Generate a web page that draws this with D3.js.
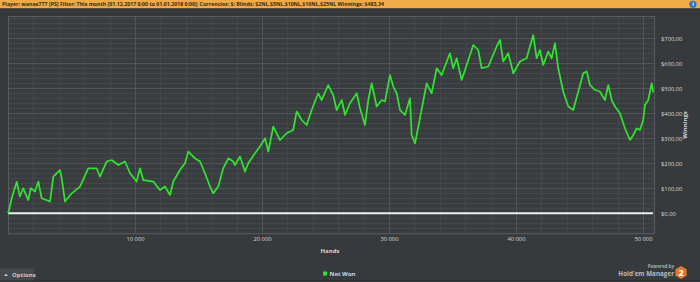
<!DOCTYPE html>
<html>
<head>
<meta charset="utf-8">
<script src="https://cdn.jsdelivr.net/npm/d3@7"></script>
<style>
	html, body { margin: 0; padding: 0; background: #373a3d; }
	svg { display: block; font-family: 'Open Sans', sans-serif; }
</style>
</head>
<body>
<div class="chart"></div>
<script>
// data
const hands = [
	0, 80, 290, 690, 940, 1200, 1600, 1790, 2130, 2390, 2650, 3310, 3570, 4090, 4230, 4490,
	5020, 5670, 6320, 6980, 7240, 7770, 8170, 8690, 9210, 9610, 10130, 10390, 10650, 11440,
	11970, 12360, 12760, 13020, 13540, 13940, 14200, 14720, 15120, 15510, 15910, 16170, 16560,
	16950, 17350, 17740, 17870, 18270, 18660, 18920, 19450, 19840, 20240, 20500, 20890, 21420,
	21940, 22460, 22730, 23130, 23520, 23910, 24430, 24700, 25220, 25610, 25880, 26280, 26540,
	26930, 27460, 27720, 28110, 28370, 28640, 29030, 29430, 29690, 30080, 30340, 30610, 30870,
	31260, 31650, 31790, 32050, 32440, 32970, 33360, 33760, 34150, 34800, 35060, 35330, 35720,
	36120, 36640, 37030, 37300, 37820, 38090, 38480, 38740, 39000, 39390, 39790, 40310, 40840,
	41360, 41630, 41890, 42150, 42540, 42810, 43070, 43330, 43720, 44120, 44510, 44910, 45300,
	45570, 45830, 46220, 46610, 47010, 47270, 47540, 47800, 48190, 48580, 48980, 49240, 49500,
	49760, 50020, 50160, 50420, 50690, 50810
];
const netWon = [
	0, 13, 60, 126, 67, 100, 53, 100, 87, 127, 60, 47, 147, 173, 140, 47,
	80, 107, 180, 180, 147, 207, 213, 193, 207, 160, 127, 180, 133, 127,
	93, 107, 73, 127, 173, 200, 247, 220, 207, 160, 107, 80, 107,
	180, 220, 207, 193, 227, 167, 200, 240, 267, 300, 247, 347, 293,
	320, 333, 407, 373, 353, 413, 480, 453, 513, 473, 413, 453, 393,
	440, 480, 420, 353, 453, 520, 427, 453, 447, 553, 507, 480, 413,
	393, 460, 313, 280, 380, 520, 480, 580, 553, 640, 580, 620, 533,
	593, 673, 653, 580, 587, 620, 667, 693, 607, 640, 560, 607, 620,
	713, 620, 653, 593, 647, 620, 680, 580, 487, 427, 413, 487, 560,
	567, 513, 493, 487, 453, 513, 453, 427, 400, 340, 293, 313, 340,
	333, 373, 433, 453, 520, 483.34
];
const yTicks = [0, 100, 200, 300, 400, 500, 600, 700];
const xTicks = [10000, 20000, 30000, 40000, 50000];
const headerText = 'Player: wanax777 [PS] Filter: This month [01.12.2017 0:00 to 01.01.2018 0:00]; Currencies: $; Blinds: $2NL,$5NL,$10NL,$16NL,$25NL Winnings: $483,34';

const width = 700;
const height = 282;
const plot = { left: 8, right: 654, top: 16, bottom: 233.3 };
const lineGreen = '#2fe62f';
const labelColor = '#d4d6d8';

const svg = d3.select('.chart').append('svg').attr('width', width).attr('height', height);

svg.append('rect').attr('width', width).attr('height', height).attr('fill', '#373a3d');

// header bar
svg.append('rect').attr('width', width).attr('height', 8.5).attr('fill', '#efab47');
svg.append('line').attr('x1', 0).attr('x2', width).attr('y1', 9).attr('y2', 9).attr('stroke', '#2c2e30').attr('stroke-width', 1);
svg.append('text')
	.attr('x', 2)
	.attr('y', 6.3)
	.attr('font-size', 5.6)
	.attr('font-weight', 'bold')
	.attr('fill', '#3a2a10')
	.attr('textLength', 382)
	.attr('lengthAdjust', 'spacingAndGlyphs')
	.text(headerText);
svg.append('circle').attr('cx', 693).attr('cy', 4.3).attr('r', 3.6).attr('fill', '#2f74c8');
svg.append('text').attr('x', 693).attr('y', 6.4).attr('font-size', 5.5).attr('font-weight', 'bold')
	.attr('fill', '#fff').style('text-anchor', 'middle').text('i');

const x = d3.scaleLinear().domain([0, 50870]).range([plot.left, plot.right]);
const y = d3.scaleLinear().domain([-80, 789]).range([plot.bottom, plot.top]);

// plot background
svg.append('rect')
	.attr('x', plot.left).attr('y', plot.top)
	.attr('width', plot.right - plot.left).attr('height', plot.bottom - plot.top)
	.attr('fill', '#3a3d40');

// minor grid
const minorY = d3.range(-80, 789, 20);
const minorX = d3.range(2000, 50870, 2000);
svg.append('g').selectAll('line').data(minorY).enter().append('line')
	.attr('x1', plot.left).attr('x2', plot.right)
	.attr('y1', (d) => Math.round(y(d)) + 0.5).attr('y2', (d) => Math.round(y(d)) + 0.5)
	.attr('stroke', '#43474a');
svg.append('g').selectAll('line').data(minorX).enter().append('line')
	.attr('y1', plot.top).attr('y2', plot.bottom)
	.attr('x1', (d) => Math.round(x(d)) + 0.5).attr('x2', (d) => Math.round(x(d)) + 0.5)
	.attr('stroke', '#43474a');

// major grid
svg.append('g').selectAll('line').data(yTicks).enter().append('line')
	.attr('x1', plot.left).attr('x2', plot.right)
	.attr('y1', (d) => Math.round(y(d)) + 0.5).attr('y2', (d) => Math.round(y(d)) + 0.5)
	.attr('stroke', '#51555a');
svg.append('g').selectAll('line').data(xTicks).enter().append('line')
	.attr('y1', plot.top).attr('y2', plot.bottom)
	.attr('x1', (d) => Math.round(x(d)) + 0.5).attr('x2', (d) => Math.round(x(d)) + 0.5)
	.attr('stroke', '#51555a');

// plot border
svg.append('rect')
	.attr('x', plot.left + 0.5).attr('y', plot.top + 0.5)
	.attr('width', plot.right - plot.left).attr('height', plot.bottom - plot.top)
	.attr('fill', 'none').attr('stroke', '#585c60');

// axes (labels only, the grid is drawn above)
const yAxis = d3.axisRight(y).tickValues(yTicks).tickSize(0)
	.tickFormat((d) => '$' + d3.format('.2f')(d).replace('.', ','));
const gy = svg.append('g').attr('transform', 'translate(' + (plot.right + 4) + ',0)').call(yAxis);
gy.select('.domain').remove();
gy.selectAll('text').attr('fill', labelColor).attr('font-size', 5.8).attr('font-family', 'Open Sans');

const xAxis = d3.axisBottom(x).tickValues(xTicks).tickSize(0)
	.tickFormat((d) => d3.format(',')(d).replace(',', ' '));
const gx = svg.append('g').attr('transform', 'translate(0,' + (plot.bottom + 1) + ')').call(xAxis);
gx.select('.domain').remove();
gx.selectAll('text').attr('fill', labelColor).attr('font-size', 5.8).attr('font-family', 'Open Sans');

// axis titles
svg.append('text').attr('x', 330).attr('y', 253).attr('font-size', 6).attr('font-weight', 'bold')
	.attr('fill', labelColor).style('text-anchor', 'middle').text('Hands');
svg.append('text').attr('transform', 'translate(687,125) rotate(-90)').attr('font-size', 6).attr('font-weight', 'bold')
	.attr('fill', labelColor).style('text-anchor', 'middle').text('Winnings');

// zero line
svg.append('line')
	.attr('x1', plot.left).attr('x2', plot.right - 1)
	.attr('y1', y(0)).attr('y2', y(0))
	.attr('stroke', '#eeeeee').attr('stroke-width', 2);

// net won line
const series = hands.map((h, i) => [h, netWon[i]]);
const valueLine = d3.line().x((d) => x(d[0])).y((d) => y(d[1]));
svg.append('path').datum(series)
	.attr('d', valueLine)
	.attr('fill', 'none')
	.attr('stroke', lineGreen)
	.attr('stroke-width', 1.7)
	.attr('stroke-linejoin', 'round');

// bottom bar: options button, legend, logo
svg.append('line').attr('x1', 0).attr('x2', width).attr('y1', 280.5).attr('y2', 280.5).attr('stroke', '#2c2e30');
svg.append('rect').attr('x', 0).attr('y', 268.5).attr('width', 34).attr('height', 12).attr('fill', '#45484c');
svg.append('path').attr('d', 'M4,276 L6,273.5 L8,276 Z').attr('fill', '#c8cacc');
svg.append('text').attr('x', 12).attr('y', 277).attr('font-size', 6).attr('font-weight', 'bold')
	.attr('fill', '#c8cacc').text('Options');

svg.append('rect').attr('x', 323).attr('y', 271.5).attr('width', 4).attr('height', 4).attr('fill', lineGreen);
svg.append('text').attr('x', 329.5).attr('y', 276).attr('font-size', 6).attr('font-weight', 'bold')
	.attr('fill', labelColor).text('Net Won');

svg.append('text').attr('x', 674).attr('y', 268).attr('font-size', 4.5).attr('font-weight', 'bold')
	.attr('fill', '#a9acae').style('text-anchor', 'end').text('Powered by');
svg.append('text').attr('x', 674).attr('y', 275.5).attr('font-size', 6.3).attr('font-weight', 'bold')
	.attr('fill', '#b8bbbd').style('text-anchor', 'end').text('Hold\'em Manager');
const hex = d3.range(6).map((i) => {
	const a = Math.PI / 3 * i + Math.PI / 6;
	return [681 + 6.5 * Math.cos(a), 272.5 + 6.5 * Math.sin(a)];
});
svg.append('path').attr('d', 'M' + hex.join('L') + 'Z').attr('fill', '#e07a2a');
svg.append('text').attr('x', 681).attr('y', 275.8).attr('font-size', 9).attr('font-weight', 'bold')
	.attr('fill', '#fff').style('text-anchor', 'middle').text('2');
</script>
</body>
</html>
